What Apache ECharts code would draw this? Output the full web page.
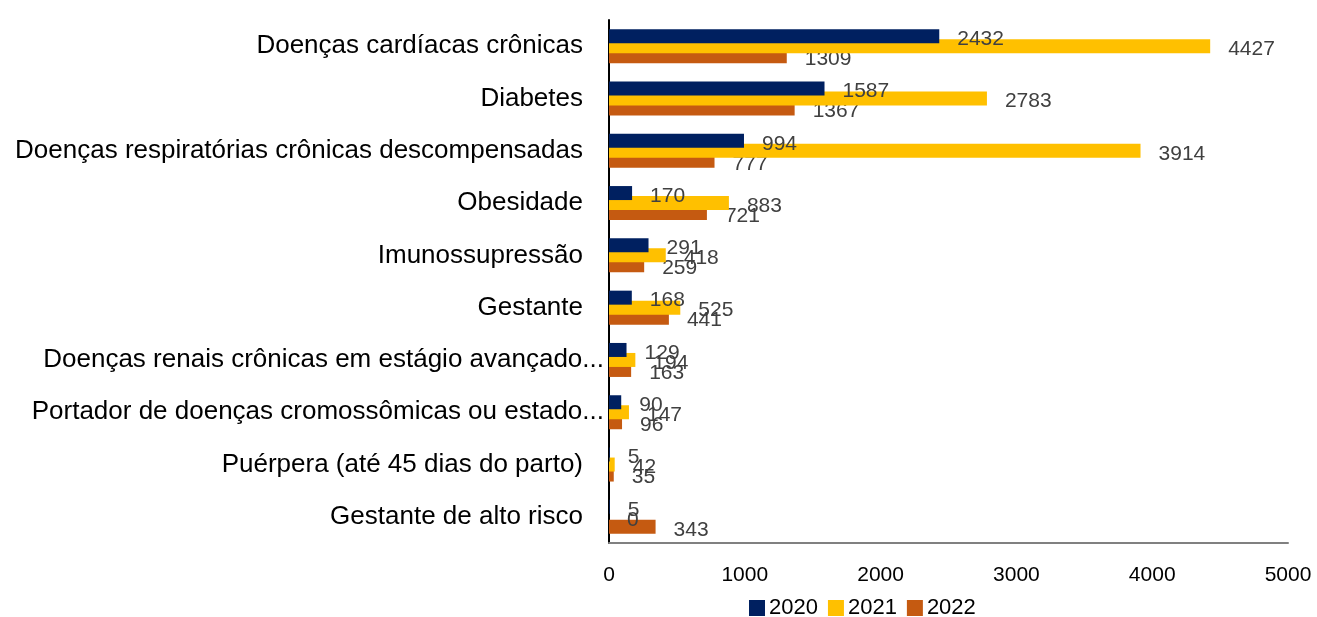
<!DOCTYPE html>
<html><head><meta charset="utf-8">
<script src="https://cdn.jsdelivr.net/npm/echarts@6/dist/echarts.min.js"></script>
<style>html,body{margin:0;padding:0;background:#fff}#c{width:1317px;height:617px}</style>
</head><body><div id="c"></div>
<script>
var categories = ["Doenças cardíacas crônicas","Diabetes","Doenças respiratórias crônicas descompensadas","Obesidade","Imunossupressão","Gestante","Doenças renais crônicas em estágio avançado...","Portador de doenças cromossômicas ou estado...","Puérpera (até 45 dias do parto)","Gestante de alto risco"];
var s2020 = [2432,1587,994,170,291,168,129,90,5,5];
var s2021 = [4427,2783,3914,883,418,525,194,147,42,0];
var s2022 = [1309,1367,777,721,259,441,163,96,35,343];
var xTicks = [0,1000,2000,3000,4000,5000];

var chart = echarts.init(document.getElementById('c'));
var lbl = {show:true, position:'right', distance:18, offset:[0,3], color:'#404040', fontSize:21, fontFamily:'Liberation Sans'};
function ser(name, data, color, z){
  return {name:name, type:'bar', data:data, barWidth:14, barGap:'-28.6%', z:z,
    itemStyle:{color:color}, label:lbl};
}
chart.setOption({
  animation:false,
  textStyle:{fontFamily:'Liberation Sans'},
  grid:{left:609, right:29, top:20, bottom:74},
  legend:{top:597, left:749, padding:0, icon:'rect', itemWidth:16, itemHeight:16, itemGap:10,
    textStyle:{fontSize:22, color:'#000', padding:[0,0,0,-1]}, data:['2020','2021','2022']},
  xAxis:{type:'value', min:xTicks[0], max:xTicks[xTicks.length-1], interval:1000,
    splitLine:{show:false}, axisLine:{show:true, lineStyle:{color:'#808080', width:2}},
    axisTick:{show:false}, axisLabel:{fontSize:21, color:'#000', margin:22,
      formatter:function(v){return String(v);}}},
  yAxis:{type:'category', data:categories, inverse:true,
    axisLine:{lineStyle:{color:'#000', width:2}}, axisTick:{show:false},
    axisLabel:{fontSize:26, color:'#000', margin:5,
      formatter:function(v){ return /\.\.\.$/.test(v) ? v : v + '{s| }'; },
      rich:{s:{width:21, fontSize:26}}}},
  series:[ser('2020', s2020, '#002060', 4), ser('2021', s2021, '#FFC000', 3), ser('2022', s2022, '#C55A11', 2)]
});
</script></body></html>
